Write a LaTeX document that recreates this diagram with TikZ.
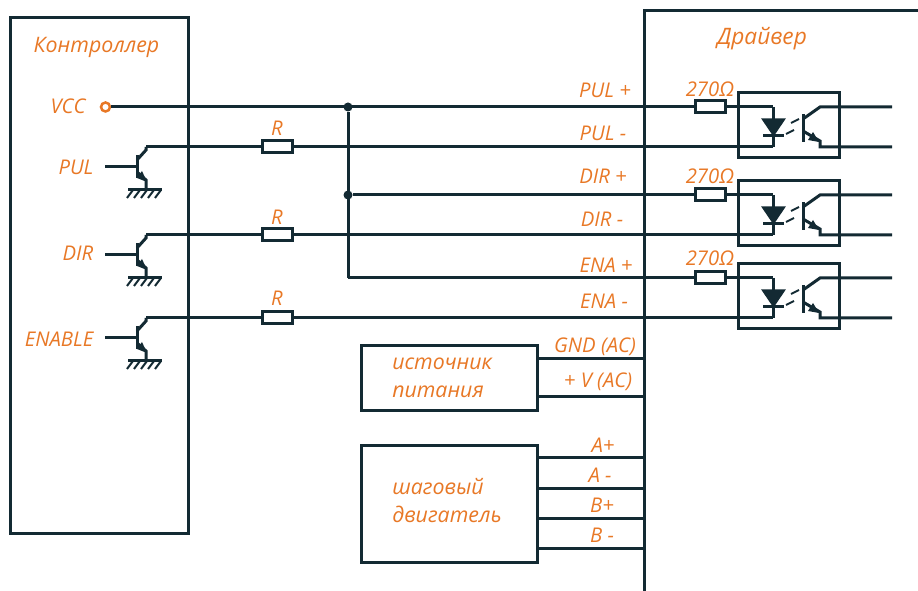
\documentclass[tikz,border=0pt]{standalone}
\usepackage{fontspec}
\setmainfont{Open Sans}
\newlength{\du}
\setlength{\du}{0.75pt}
\definecolor{wirecolor}{rgb}{0.075, 0.165, 0.200}
\definecolor{labelcolor}{rgb}{0.910, 0.470, 0.150}
\tikzset{
  wire/.style={draw=wirecolor, line width=3\du},
  thinpart/.style={draw=wirecolor, line width=2\du},
  partbox/.style={wire, fill=white, rectangle, inner sep=0pt, outer sep=0pt},
  resistor/.style={partbox, minimum width=30\du, minimum height=12\du},
  label/.style={text=labelcolor, inner sep=0pt, font=\fontsize{15.2}{18}\selectfont\itshape},
  biglabel/.style={label, font=\fontsize{16}{21}\selectfont\itshape},
  junction/.style={circle, fill=wirecolor, inner sep=0pt, minimum size=9\du},
  pin/.style={circle, draw=labelcolor, line width=2.5\du, fill=white, inner sep=0pt, minimum size=9\du}
}
% #1 name, #2 y of the collector wire
\newcommand{\bjt}[2]{
\begin{scope}[shift={(0\du,#2\du)}]
\coordinate (#1c) at (146\du,0\du);
\coordinate (#1b) at (105\du,20\du);
\coordinate (#1g) at (146\du,43\du);
\draw[wire] (#1b) -- (137\du,20\du);
\draw[wire] (137\du,8\du) -- (137\du,31\du);
\draw[wire] (#1c) -- (146\du,3\du) -- (137\du,13\du);
\draw[wire] (137\du,25\du) -- (146\du,33\du) -- (#1g);
\fill[wirecolor] (147\du,35\du) -- (137\du,31\du) -- (142\du,24\du) -- cycle;
\draw[wire] (128\du,43\du) -- (162\du,43\du);
\foreach \hx in {133,140,147,154,161}
  \draw[thinpart] (\hx\du,43\du) -- (\hx\du-6\du,51\du);
\end{scope}
}
% #1 name, #2 y of the upper wire
\newcommand{\opto}[2]{
\begin{scope}[shift={(0\du,#2\du)}]
\node[partbox, minimum width=101\du, minimum height=65\du] (#1box) at (789\du,18.5\du) {};
\coordinate (#1a) at (773\du,0\du);
\coordinate (#1k) at (773\du,40\du);
\draw[wire] (#1a) -- (#1k);
\draw[wire, fill=wirecolor] (764\du,13\du) -- (783\du,13\du) -- (773.5\du,27\du) -- cycle;
\draw[wire] (763\du,29\du) -- (784\du,29\du);
\draw[thinpart] (791\du,16\du) -- (799\du,12\du);
\draw[thinpart] (786\du,27\du) -- (794\du,23\du);
\draw[wire] (803\du,7\du) -- (803\du,35\du);
\coordinate (#1o) at (892\du,0\du);
\coordinate (#1e) at (892\du,40\du);
\draw[wire] (#1o) -- (820\du,0\du) -- (803\du,12\du);
\draw[wire] (#1e) -- (820\du,40\du) -- (820\du,34\du) -- (803\du,24\du);
\fill[wirecolor] (819\du,35\du) -- (808\du,33\du) -- (813\du,25\du) -- cycle;
\end{scope}
}

\begin{document}
\begin{tikzpicture}
\pgftransformxscale{1.000000}
\pgftransformyscale{-1.000000}
\useasboundingbox (0\du,0\du) rectangle (918\du,591\du);
% left box
\node[partbox, minimum width=178\du, minimum height=516\du] (controller) at (99\du,275.5\du) {};
\node[biglabel] (controllerlabel) at (96.5\du,47\du) {Контроллер};
% right box, open to the page edge
\coordinate (drvtop) at (918\du,10.5\du);
\coordinate (drvbot) at (644\du,591\du);
\draw[wire] (drvbot) |- (drvtop);
\node[biglabel, font=\fontsize{17}{21}\selectfont\itshape] (driverlabel) at (762\du,39\du) {Драйвер};
% optocouplers
\opto{optoa}{107}
\opto{optob}{195}
\opto{optoc}{278}
\node[resistor] (rpa) at (710\du,107\du) {};
\node[resistor] (rpb) at (710\du,195\du) {};
\node[resistor] (rpc) at (710\du,278\du) {};
\node[label] (rpalabel) at (710\du,89\du) {270Ω};
\node[label] (rpblabel) at (710\du,176\du) {270Ω};
\node[label] (rpclabel) at (710\du,258\du) {270Ω};
% transistors
\bjt{qa}{147}
\bjt{qb}{235}
\bjt{qc}{318}
\node[resistor] (ra) at (277\du,147\du) {};
\node[resistor] (rb) at (277\du,235\du) {};
\node[resistor] (rc) at (277\du,318\du) {};
\node[label] (ralabel) at (277\du,128\du) {R};
\node[label] (rblabel) at (277\du,217\du) {R};
\node[label] (rclabel) at (277\du,298\du) {R};
% supply wires
\node[pin] (vcc) at (105.5\du,107\du) {};
\node[junction] (ja) at (348\du,107\du) {};
\node[junction] (jb) at (348\du,195\du) {};
\coordinate (jc) at (348\du,278\du);
\draw[wire] (vcc) -- (rpa);
\draw[wire] (ja) -- (jc);
\draw[wire] (jb) -- (rpb);
\draw[wire] (jc) -- (rpc);
\draw[wire] (rpa) -- (optoaa);
\draw[wire] (rpb) -- (optoba);
\draw[wire] (rpc) -- (optoca);
% signal wires
\draw[wire] (qac) -- (ra);
\draw[wire] (qbc) -- (rb);
\draw[wire] (qcc) -- (rc);
\draw[wire] (ra) -- (optoak);
\draw[wire] (rb) -- (optobk);
\draw[wire] (rc) -- (optock);
% labels
\node[label] (vcclabel) at (68\du,106\du) {VCC};
\node[label] (pullabel) at (76\du,167\du) {PUL};
\node[label] (dirlabel) at (78\du,253\du) {DIR};
\node[label] (enalabel) at (59\du,339\du) {ENABLE};
\node[label] (pulp) at (605\du,90\du) {PUL +};
\node[label] (pulm) at (603\du,133\du) {PUL -};
\node[label] (dirp) at (603\du,176\du) {DIR +};
\node[label] (dirm) at (602\du,219\du) {DIR -};
\node[label] (enap) at (606\du,265\du) {ENA +};
\node[label] (enam) at (604\du,301\du) {ENA -};
% power supply
\node[partbox, minimum width=176\du, minimum height=65\du] (supply) at (449\du,378\du) {};
\node[biglabel, anchor=west, align=left] (supplylabel) at (392\du,378\du) {источник\\питания};
\coordinate (gndpin) at (644\du,359\du);
\coordinate (vpin) at (644\du,397\du);
\draw[wire] (supply.east |- gndpin) -- (gndpin);
\draw[wire] (supply.east |- vpin) -- (vpin);
\node[label] (gndlabel) at (595\du,347\du) {GND (AC)};
\node[label] (vlabel) at (598\du,382\du) {+ V (AC)};
% motor
\node[partbox, minimum width=176\du, minimum height=117\du] (motor) at (449\du,504\du) {};
\node[biglabel, anchor=west, align=left] (motorlabel) at (392\du,501\du) {шаговый\\двигатель};
\coordinate (apin) at (644\du,458\du);
\coordinate (anpin) at (644\du,489\du);
\coordinate (bpin) at (644\du,519\du);
\coordinate (bnpin) at (644\du,549\du);
\draw[wire] (motor.east |- apin) -- (apin);
\draw[wire] (motor.east |- anpin) -- (anpin);
\draw[wire] (motor.east |- bpin) -- (bpin);
\draw[wire] (motor.east |- bnpin) -- (bnpin);
\node[label] (alabel) at (603\du,445\du) {A+};
\node[label] (anlabel) at (600\du,475\du) {A -};
\node[label] (blabel) at (602\du,505\du) {B+};
\node[label] (bnlabel) at (602\du,535\du) {B -};
\end{tikzpicture}
\end{document}
